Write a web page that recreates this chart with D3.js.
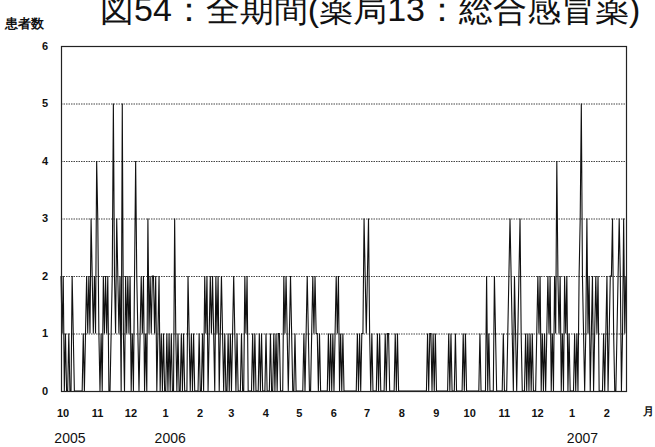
<!DOCTYPE html>
<html>
<head>
<meta charset="utf-8">
<script src="https://cdn.jsdelivr.net/npm/d3@7"></script>
<style>
  body { margin: 0; background: #fff; }
  text { font-family: "Liberation Sans", Arial, sans-serif; }
</style>
</head>
<body>
<svg id="chart" width="655" height="447"></svg>
<script>
// daily patient counts, one array per month
var oct2005 = [2,1,2,0,1,0,0,1,0,0,2,1,0,0,0,0,0,0,0,0,1,0,1,2,1,2,1,3,2,1,2];
var nov2005 = [1,4,3,1,0,1,0,2,1,2,1,2,0,0,1,2,5,2,1,3,2,1,2,0,5,1,0,2,1,2];
var dec2005 = [1,2,0,1,0,2,4,2,1,0,1,2,1,2,0,1,0,3,1,2,1,2,2,1,2,0,1,2,0,1,0];
var jan2006 = [1,0,0,1,0,1,0,1,0,0,3,1,0,1,0,0,1,0,1,0,0,0,2,1,0,1,0,1,0,0,0];
var feb2006 = [0,1,0,0,1,0,2,1,2,0,1,2,1,2,1,0,2,1,2,0,1,2,1,0,1,0,0,1];
var mar2006 = [0,1,0,1,2,1,0,1,0,0,0,1,0,0,2,1,2,0,0,0,0,1,0,1,0,0,0,1,0,1,0];
var apr2006 = [0,0,1,0,0,0,1,0,0,1,0,1,0,1,1,0,0,0,2,1,2,1,0,1,2,1,0,0,1,0];
var may2006 = [0,0,0,0,0,0,1,0,1,2,1,0,0,1,2,1,2,1,1,0,1,0,0,0,0,0,0,0,1,0,1];
var jun2006 = [0,1,0,1,2,1,2,0,1,0,1,0,0,0,0,0,0,0,0,0,0,0,0,1,0,1,0,1,1,3];
var jul2006 = [2,1,2,3,1,0,1,0,0,0,0,1,0,1,0,0,0,0,1,0,1,1,0,0,0,0,0,1,0,1,0];
var aug2006 = [0,0,0,0,0,0,0,0,0,0,0,0,0,0,0,0,0,0,0,0,0,0,0,0,0,1,0,1,1,0,1];
var sep2006 = [0,1,0,0,0,0,0,0,0,0,0,0,0,1,0,1,0,0,0,1,0,0,0,0,0,0,1,0,1,0];
var oct2006 = [0,0,0,0,0,0,0,0,0,0,0,1,0,0,0,0,0,2,0,1,0,0,0,0,2,1,0,0,0,0,0];
var nov2006 = [0,1,0,0,0,1,2,3,2,1,0,2,1,0,1,2,3,1,0,0,0,1,0,1,0,1,0,1,0,0];
var dec2006 = [0,1,2,1,2,0,1,0,1,0,1,2,1,2,0,1,0,2,1,4,2,1,2,0,1,0,2,1,2,0,1];
var jan2007 = [0,0,0,0,1,0,1,0,2,3,5,2,1,0,1,3,1,2,0,1,2,0,1,2,1,2,0,0,0,0,1];
var feb2007 = [0,1,2,0,1,2,2,3,1,0,0,1,2,3,2,0,1,3,1,2];

var monthSeries = [oct2005, nov2005, dec2005, jan2006, feb2006, mar2006, apr2006, may2006,
  jun2006, jul2006, aug2006, sep2006, oct2006, nov2006, dec2006, jan2007, feb2007];
var monthStarts = ['2005-10-01','2005-11-01','2005-12-01','2006-01-01','2006-02-01','2006-03-01',
  '2006-04-01','2006-05-01','2006-06-01','2006-07-01','2006-08-01','2006-09-01','2006-10-01',
  '2006-11-01','2006-12-01','2007-01-01','2007-02-01'];
var monthLabels = ['10','11','12','1','2','3','4','5','6','7','8','9','10','11','12','1','2'];
var yearLabels = ['2005','2006','2007'];
var yearDates = ['2005-10-09','2006-01-07','2007-01-12'];
var yTicks = [0,1,2,3,4,5,6];

var titleText = '図54：全期間(薬局13：総合感冒薬)';
var yTitle = '患者数';
var xUnit = '月';

var parse = d3.timeParse('%Y-%m-%d');
var daily = [];
monthSeries.forEach(function (vals, i) {
  var start = parse(monthStarts[i]);
  vals.forEach(function (v, j) {
    daily.push({ date: d3.timeDay.offset(start, j), value: v });
  });
});

var svg = d3.select('#chart'),
    margin = { top: 46, right: 28, bottom: 56, left: 61 },
    width = 655 - margin.left - margin.right,
    height = 447 - margin.top - margin.bottom;

var x = d3.scaleTime()
  .domain([parse('2005-10-01'), parse('2007-02-21')])
  .range([0, width]);
var y = d3.scaleLinear().domain([0, 6]).range([height, 0]);

var g = svg.append('g').attr('transform', 'translate(' + margin.left + ',' + margin.top + ')');

// dotted grid
g.append('g').selectAll('line').data(yTicks.filter(function (d) { return d > 0 && d < 6; }))
  .enter().append('line')
  .attr('x1', 0).attr('x2', width)
  .attr('y1', function (d) { return y(d) + 0.5; })
  .attr('y2', function (d) { return y(d) + 0.5; })
  .attr('stroke', '#444').attr('stroke-width', 1).attr('stroke-dasharray', '1.5,1');

// the series
var line = d3.line()
  .x(function (d) { return x(d.date); })
  .y(function (d) { return y(d.value); });

g.append('path').datum(daily)
  .attr('d', line)
  .attr('fill', 'none')
  .attr('stroke', '#111')
  .attr('stroke-width', 1.1);

// frame
g.append('rect').attr('x', 0.5).attr('y', 0.5).attr('width', width - 1).attr('height', height)
  .attr('fill', 'none').attr('stroke', '#222').attr('stroke-width', 1.2);

// y labels
g.append('g').selectAll('text').data(yTicks).enter().append('text')
  .attr('x', -13).attr('y', function (d) { return y(d); })
  .attr('dy', '0.35em').attr('text-anchor', 'end')
  .attr('font-size', 11).attr('font-weight', 'bold').attr('fill', '#111')
  .text(function (d) { return d; });

// month labels
g.append('g').selectAll('text').data(monthLabels).enter().append('text')
  .attr('x', function (d, i) { return x(parse(monthStarts[i])) + 2; })
  .attr('y', height + 26)
  .attr('text-anchor', 'middle')
  .attr('font-size', 11).attr('font-weight', 'bold').attr('fill', '#111')
  .text(function (d) { return d; });

// year labels
g.append('g').selectAll('text').data(yearLabels).enter().append('text')
  .attr('x', function (d, i) { return x(parse(yearDates[i])); })
  .attr('y', height + 52)
  .attr('text-anchor', 'middle')
  .attr('font-size', 14).attr('fill', '#111')
  .text(function (d) { return d; });

svg.append('text').attr('x', 648).attr('y', 415).attr('text-anchor', 'middle')
  .attr('font-family', '"Noto Sans CJK JP", sans-serif')
  .attr('font-size', 11).attr('font-weight', 'bold').attr('fill', '#111').text(xUnit);

svg.append('text').attr('x', 5).attr('y', 28)
  .attr('font-family', '"Noto Sans CJK JP", sans-serif')
  .attr('font-size', 13).attr('font-weight', 'bold').attr('fill', '#111').text(yTitle);

// title sits partly above the top edge, as in the scan
svg.append('text').attr('x', 100).attr('y', 21)
  .attr('font-family', '"Noto Sans CJK JP", sans-serif')
  .attr('font-size', 34).attr('font-weight', 300).attr('fill', '#111').text(titleText);
</script>
</body>
</html>
